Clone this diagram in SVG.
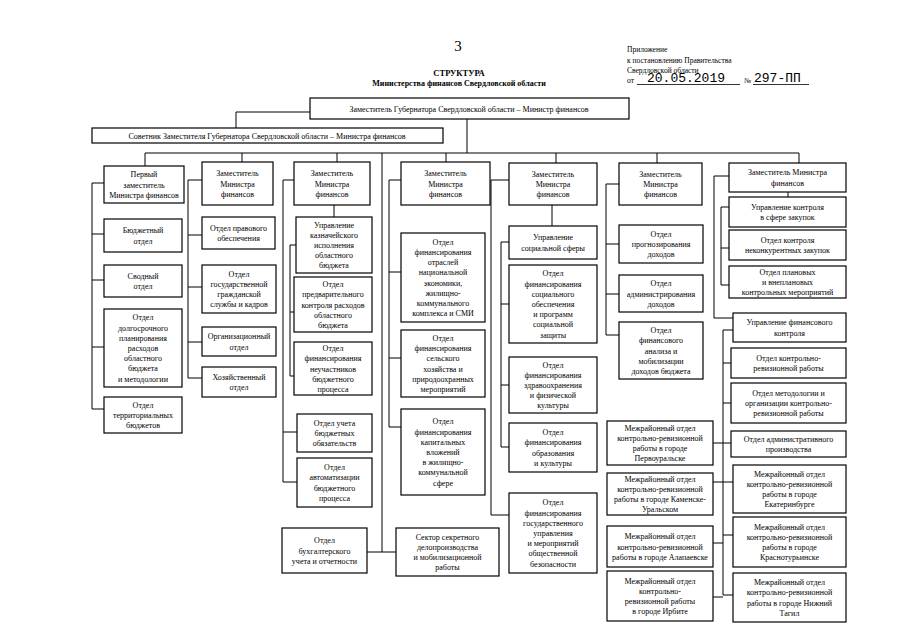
<svg xmlns="http://www.w3.org/2000/svg" width="905" height="640" viewBox="0 0 905 640">
<style>
.bg{fill:#fff}
.b{fill:#fff;stroke:#000;stroke-width:1.2}
.t{font-family:"Liberation Serif","Times New Roman",serif;font-size:8px;text-anchor:middle;fill:#000}
.h{font-family:"Liberation Serif","Times New Roman",serif;fill:#000}
.m{font-family:"Liberation Mono","Courier New",monospace;font-size:13px;fill:#000}
.c path{fill:none;stroke:#000;stroke-width:1}
</style>
<rect class="bg" x="0" y="0" width="905" height="640"/>
<g id="header">
<text class="h" x="458" y="51" font-size="15" text-anchor="middle">3</text>
<text class="h" x="459" y="76" font-size="8.5" font-weight="bold" text-anchor="middle">СТРУКТУРА</text>
<text class="h" x="459" y="86" font-size="8" font-weight="bold" text-anchor="middle">Министерства финансов Свердловской области</text>
<text class="h" x="627" y="52" font-size="7.5">Приложение</text>
<text class="h" x="627" y="63" font-size="7.5">к постановлению Правительства</text>
<text class="h" x="627" y="73" font-size="7.5">Свердловской области</text>
<text class="h" x="627" y="83" font-size="7.5">от</text>
<text class="m" x="647" y="82">20.05.2019</text>
<text class="h" x="744" y="83" font-size="7.5">№</text>
<text class="m" x="754" y="82">297-ПП</text>
<path d="M637,84.5 H740 M753,84.5 H809" stroke="#000" stroke-width="0.8" fill="none"/>
</g>
<g class="c" id="connectors">
<path d="M310,112 H236 V128"/>
<path d="M467,119 V153"/>
<path d="M145,153 H799"/>
<path d="M145,153 V166 M242,153 V162 M337,153 V162 M382,153 V552 M446,153 V162 M556,153 V163 M657,153 V163 M799,153 V163"/>
<path d="M104,183 H92 V409 H104 M92,234 H104 M92,280 H104 M92,347 H104"/>
<path d="M202,180 H188 V378 H202 M188,235 H202 M188,287 H202 M188,342 H202"/>
<path d="M294,180 H283 V482 H297 M283,432 H297 M334,205 V217 M296,245 H290 V376 H294 M290,312 H294"/>
<path d="M401,180 H389 V427 H401 M389,272 H401 M389,358 H401 M367,552 H396"/>
<path d="M509,180 H491 V515 H509 M552,205 V226 M509,242 H501 V447 H509 M501,304 H509 M501,385 H509"/>
<path d="M619,184 H606 V335 H619 M606,244 H619 M606,294 H619"/>
<path d="M729,176 H714 V318 H733 M788,192 V197 M729,207 H721 V285 H729 M721,248 H729"/>
<path d="M733,330 H723 V595 H733 M723,363 H731 M723,403 H731 M723,443 H731 M723,482 H733 M723,535 H733"/>
<path d="M713,443 H723 M713,482 H723 M713,543 H723 M713,597 H723"/>
</g>
<g id="n-minister"><rect class="b" x="310" y="98" width="319" height="21"/><text class="t" x="469" y="112" font-size="8.7">Заместитель Губернатора Свердловской области – Министр финансов</text></g>
<g id="n-advisor"><rect class="b" x="92" y="128" width="351" height="15"/><text class="t" x="267" y="138.5" font-size="8.4">Советник Заместителя Губернатора Свердловской области – Министра финансов</text></g>

<g id="n-c1-head"><rect class="b" x="104" y="166" width="80" height="37"/><text class="t"><tspan x="144" y="177.3">Первый</tspan><tspan x="144" y="187.5">заместитель</tspan><tspan x="144" y="197.7">Министра финансов</tspan></text></g>
<g id="n-c1-budget"><rect class="b" x="104" y="219" width="78" height="33"/><text class="t"><tspan x="143" y="233.4">Бюджетный</tspan><tspan x="143" y="243.6">отдел</tspan></text></g>
<g id="n-c1-svod"><rect class="b" x="104" y="265" width="78" height="32"/><text class="t"><tspan x="143" y="278.9">Сводный</tspan><tspan x="143" y="289.1">отдел</tspan></text></g>
<g id="n-c1-long"><rect class="b" x="104" y="309" width="78" height="78"/><text class="t"><tspan x="143" y="320.4">Отдел</tspan><tspan x="143" y="330.6">долгосрочного</tspan><tspan x="143" y="340.8">планирования</tspan><tspan x="143" y="351">расходов</tspan><tspan x="143" y="361.2">областного</tspan><tspan x="143" y="371.4">бюджета</tspan><tspan x="143" y="381.6">и методологии</tspan></text></g>
<g id="n-c1-terr"><rect class="b" x="104" y="397" width="78" height="36"/><text class="t"><tspan x="143" y="407.8">Отдел</tspan><tspan x="143" y="418">территориальных</tspan><tspan x="143" y="428.2">бюджетов</tspan></text></g>

<g id="n-c2-head"><rect class="b" x="202" y="162" width="71" height="43"/><text class="t"><tspan x="237.5" y="176.3">Заместитель</tspan><tspan x="237.5" y="186.5">Министра</tspan><tspan x="237.5" y="196.7">финансов</tspan></text></g>
<g id="n-c2-legal"><rect class="b" x="202" y="217" width="73" height="32"/><text class="t"><tspan x="238.5" y="230.9">Отдел правового</tspan><tspan x="238.5" y="241.1">обеспечения</tspan></text></g>
<g id="n-c2-hr"><rect class="b" x="202" y="265" width="74" height="48"/><text class="t"><tspan x="239" y="276.7">Отдел</tspan><tspan x="239" y="286.9">государственной</tspan><tspan x="239" y="297.1">гражданской</tspan><tspan x="239" y="307.3">службы и кадров</tspan></text></g>
<g id="n-c2-org"><rect class="b" x="202" y="327" width="74" height="29"/><text class="t"><tspan x="239" y="339.4">Организационный</tspan><tspan x="239" y="349.6">отдел</tspan></text></g>
<g id="n-c2-hoz"><rect class="b" x="202" y="367" width="74" height="30"/><text class="t"><tspan x="239" y="379.9">Хозяйственный</tspan><tspan x="239" y="390.1">отдел</tspan></text></g>

<g id="n-c3-head"><rect class="b" x="294" y="162" width="76" height="43"/><text class="t"><tspan x="332" y="176.3">Заместитель</tspan><tspan x="332" y="186.5">Министра</tspan><tspan x="332" y="196.7">финансов</tspan></text></g>
<g id="n-c3-treasury"><rect class="b" x="296" y="217" width="76" height="56"/><text class="t"><tspan x="334" y="227.6">Управление</tspan><tspan x="334" y="237.8">казначейского</tspan><tspan x="334" y="248">исполнения</tspan><tspan x="334" y="258.2">областного</tspan><tspan x="334" y="268.4">бюджета</tspan></text></g>
<g id="n-c3-prelim"><rect class="b" x="294" y="277" width="78" height="55"/><text class="t"><tspan x="333" y="287.1">Отдел</tspan><tspan x="333" y="297.3">предварительного</tspan><tspan x="333" y="307.5">контроля расходов</tspan><tspan x="333" y="317.7">областного</tspan><tspan x="333" y="327.9">бюджета</tspan></text></g>
<g id="n-c3-nonpart"><rect class="b" x="294" y="342" width="78" height="53"/><text class="t"><tspan x="333" y="351.1">Отдел</tspan><tspan x="333" y="361.3">финансирования</tspan><tspan x="333" y="371.5">неучастников</tspan><tspan x="333" y="381.7">бюджетного</tspan><tspan x="333" y="391.9">процесса</tspan></text></g>
<g id="n-c3-oblig"><rect class="b" x="297" y="414" width="75" height="38"/><text class="t"><tspan x="334.5" y="425.8">Отдел учета</tspan><tspan x="334.5" y="436">бюджетных</tspan><tspan x="334.5" y="446.2">обязательств</tspan></text></g>
<g id="n-c3-auto"><rect class="b" x="297" y="458" width="75" height="49"/><text class="t"><tspan x="334.5" y="470.2">Отдел</tspan><tspan x="334.5" y="480.4">автоматизации</tspan><tspan x="334.5" y="490.6">бюджетного</tspan><tspan x="334.5" y="500.8">процесса</tspan></text></g>

<g id="n-c4-head"><rect class="b" x="401" y="162" width="89" height="43"/><text class="t"><tspan x="445.5" y="176.3">Заместитель</tspan><tspan x="445.5" y="186.5">Министра</tspan><tspan x="445.5" y="196.7">финансов</tspan></text></g>
<g id="n-c4-econ"><rect class="b" x="401" y="233" width="84" height="89"/><text class="t"><tspan x="443" y="244.8">Отдел</tspan><tspan x="443" y="255">финансирования</tspan><tspan x="443" y="265.2">отраслей</tspan><tspan x="443" y="275.4">национальной</tspan><tspan x="443" y="285.6">экономики,</tspan><tspan x="443" y="295.8">жилищно-</tspan><tspan x="443" y="306">коммунального</tspan><tspan x="443" y="316.2">комплекса и СМИ</tspan></text></g>
<g id="n-c4-agro"><rect class="b" x="401" y="330" width="84" height="67"/><text class="t"><tspan x="443" y="341">Отдел</tspan><tspan x="443" y="351.2">финансирования</tspan><tspan x="443" y="361.4">сельского</tspan><tspan x="443" y="371.6">хозяйства и</tspan><tspan x="443" y="381.8">природоохранных</tspan><tspan x="443" y="392">мероприятий</tspan></text></g>
<g id="n-c4-capital"><rect class="b" x="401" y="409" width="84" height="86"/><text class="t"><tspan x="443" y="424.4">Отдел</tspan><tspan x="443" y="434.6">финансирования</tspan><tspan x="443" y="444.8">капитальных</tspan><tspan x="443" y="455">вложений</tspan><tspan x="443" y="465.2">в жилищно-</tspan><tspan x="443" y="475.4">коммунальной</tspan><tspan x="443" y="485.6">сфере</tspan></text></g>
<g id="n-accounting"><rect class="b" x="282" y="528" width="85" height="45"/><text class="t"><tspan x="324.5" y="543.3">Отдел</tspan><tspan x="324.5" y="553.5">бухгалтерского</tspan><tspan x="324.5" y="563.7">учета и отчетности</tspan></text></g>
<g id="n-secret"><rect class="b" x="396" y="528" width="103" height="48"/><text class="t"><tspan x="447.5" y="539.7">Сектор секретного</tspan><tspan x="447.5" y="549.9">делопроизводства</tspan><tspan x="447.5" y="560.1">и мобилизационной</tspan><tspan x="447.5" y="570.3">работы</tspan></text></g>

<g id="n-c5-head"><rect class="b" x="509" y="163" width="88" height="42"/><text class="t"><tspan x="553" y="176.8">Заместитель</tspan><tspan x="553" y="187">Министра</tspan><tspan x="553" y="197.2">финансов</tspan></text></g>
<g id="n-c5-social"><rect class="b" x="509" y="226" width="88" height="33"/><text class="t"><tspan x="553" y="240.4">Управление</tspan><tspan x="553" y="250.6">социальной сферы</tspan></text></g>
<g id="n-c5-socsec"><rect class="b" x="509" y="265" width="88" height="78"/><text class="t"><tspan x="553" y="276.4">Отдел</tspan><tspan x="553" y="286.6">финансирования</tspan><tspan x="553" y="296.8">социального</tspan><tspan x="553" y="307">обеспечения</tspan><tspan x="553" y="317.2">и программ</tspan><tspan x="553" y="327.4">социальной</tspan><tspan x="553" y="337.6">защиты</tspan></text></g>
<g id="n-c5-health"><rect class="b" x="509" y="357" width="88" height="56"/><text class="t"><tspan x="553" y="367.6">Отдел</tspan><tspan x="553" y="377.8">финансирования</tspan><tspan x="553" y="388">здравоохранения</tspan><tspan x="553" y="398.2">и физической</tspan><tspan x="553" y="408.4">культуры</tspan></text></g>
<g id="n-c5-edu"><rect class="b" x="509" y="423" width="88" height="49"/><text class="t"><tspan x="553" y="435.2">Отдел</tspan><tspan x="553" y="445.4">финансирования</tspan><tspan x="553" y="455.6">образования</tspan><tspan x="553" y="465.8">и культуры</tspan></text></g>
<g id="n-c5-gov"><rect class="b" x="509" y="493" width="88" height="80"/><text class="t"><tspan x="553" y="505.4">Отдел</tspan><tspan x="553" y="515.6">финансирования</tspan><tspan x="553" y="525.8">государственного</tspan><tspan x="553" y="536">управления</tspan><tspan x="553" y="546.2">и мероприятий</tspan><tspan x="553" y="556.4">общественной</tspan><tspan x="553" y="566.6">безопасности</tspan></text></g>

<g id="n-c6-head"><rect class="b" x="619" y="163" width="83" height="42"/><text class="t"><tspan x="660.5" y="176.8">Заместитель</tspan><tspan x="660.5" y="187">Министра</tspan><tspan x="660.5" y="197.2">финансов</tspan></text></g>
<g id="n-c6-forecast"><rect class="b" x="619" y="225" width="84" height="38"/><text class="t"><tspan x="661" y="236.8">Отдел</tspan><tspan x="661" y="247">прогнозирования</tspan><tspan x="661" y="257.2">доходов</tspan></text></g>
<g id="n-c6-admin"><rect class="b" x="619" y="275" width="84" height="37"/><text class="t"><tspan x="661" y="286.3">Отдел</tspan><tspan x="661" y="296.5">администрирования</tspan><tspan x="661" y="306.7">доходов</tspan></text></g>
<g id="n-c6-analysis"><rect class="b" x="619" y="322" width="84" height="57"/><text class="t"><tspan x="661" y="333.1">Отдел</tspan><tspan x="661" y="343.3">финансового</tspan><tspan x="661" y="353.5">анализа и</tspan><tspan x="661" y="363.7">мобилизации</tspan><tspan x="661" y="373.9">доходов бюджета</tspan></text></g>

<g id="n-c7-head"><rect class="b" x="729" y="163" width="117" height="29"/><text class="t"><tspan x="787.5" y="175.4">Заместитель Министра</tspan><tspan x="787.5" y="185.6">финансов</tspan></text></g>
<g id="n-c7-proc"><rect class="b" x="729" y="197" width="117" height="30"/><text class="t"><tspan x="787.5" y="209.9">Управление контроля</tspan><tspan x="787.5" y="220.1">в сфере закупок</tspan></text></g>
<g id="n-c7-noncomp"><rect class="b" x="729" y="230" width="117" height="30"/><text class="t"><tspan x="787.5" y="242.9">Отдел контроля</tspan><tspan x="787.5" y="253.1">неконкурентных закупок</tspan></text></g>
<g id="n-c7-plan"><rect class="b" x="729" y="266" width="117" height="32"/><text class="t"><tspan x="787.5" y="274.8">Отдел плановых</tspan><tspan x="787.5" y="285">и внеплановых</tspan><tspan x="787.5" y="295.2">контрольных мероприятий</tspan></text></g>
<g id="n-c7-finctrl"><rect class="b" x="733" y="313" width="113" height="29"/><text class="t"><tspan x="789.5" y="325.4">Управление финансового</tspan><tspan x="789.5" y="335.6">контроля</tspan></text></g>
<g id="n-c7-krr"><rect class="b" x="731" y="348" width="115" height="30"/><text class="t"><tspan x="788.5" y="360.9">Отдел контрольно-</tspan><tspan x="788.5" y="371.1">ревизионной работы</tspan></text></g>
<g id="n-c7-method"><rect class="b" x="731" y="383" width="115" height="40"/><text class="t"><tspan x="788.5" y="395.8">Отдел методологии и</tspan><tspan x="788.5" y="406">организации контрольно-</tspan><tspan x="788.5" y="416.2">ревизионной работы</tspan></text></g>
<g id="n-c7-adm"><rect class="b" x="731" y="431" width="115" height="26"/><text class="t"><tspan x="788.5" y="441.9">Отдел административного</tspan><tspan x="788.5" y="452.1">производства</tspan></text></g>
<g id="n-c7-ekb"><rect class="b" x="733" y="465" width="113" height="48"/><text class="t"><tspan x="789.5" y="476.7">Межрайонный отдел</tspan><tspan x="789.5" y="486.9">контрольно-ревизионной</tspan><tspan x="789.5" y="497.1">работы в городе</tspan><tspan x="789.5" y="507.3">Екатеринбурге</tspan></text></g>
<g id="n-c7-krasn"><rect class="b" x="733" y="517" width="113" height="50"/><text class="t"><tspan x="789.5" y="529.7">Межрайонный отдел</tspan><tspan x="789.5" y="539.9">контрольно-ревизионной</tspan><tspan x="789.5" y="550.1">работы в городе</tspan><tspan x="789.5" y="560.3">Краснотурьинске</tspan></text></g>
<g id="n-c7-tagil"><rect class="b" x="733" y="573" width="113" height="49"/><text class="t"><tspan x="789.5" y="585.2">Межрайонный отдел</tspan><tspan x="789.5" y="595.4">контрольно-ревизионной</tspan><tspan x="789.5" y="605.6">работы в городе Нижний</tspan><tspan x="789.5" y="615.8">Тагил</tspan></text></g>

<g id="n-m-perv"><rect class="b" x="607" y="421" width="106" height="44"/><text class="t"><tspan x="660" y="430.7">Межрайонный отдел</tspan><tspan x="660" y="440.9">контрольно-ревизионной</tspan><tspan x="660" y="451.1">работы в городе</tspan><tspan x="660" y="461.3">Первоуральске</tspan></text></g>
<g id="n-m-kam"><rect class="b" x="607" y="473" width="106" height="42"/><text class="t"><tspan x="660" y="481.7">Межрайонный отдел</tspan><tspan x="660" y="491.9">контрольно-ревизионной</tspan><tspan x="660" y="502.1">работы в городе Каменске-</tspan><tspan x="660" y="512.3">Уральском</tspan></text></g>
<g id="n-m-alap"><rect class="b" x="607" y="526" width="106" height="41"/><text class="t"><tspan x="660" y="539.3">Межрайонный отдел</tspan><tspan x="660" y="549.5">контрольно-ревизионной</tspan><tspan x="660" y="559.7">работы в городе Алапаевске</tspan></text></g>
<g id="n-m-irb"><rect class="b" x="607" y="571" width="106" height="50"/><text class="t"><tspan x="660" y="583.7">Межрайонный отдел</tspan><tspan x="660" y="593.9">контрольно-</tspan><tspan x="660" y="604.1">ревизионной работы</tspan><tspan x="660" y="614.3">в городе Ирбите</tspan></text></g>
</svg>
